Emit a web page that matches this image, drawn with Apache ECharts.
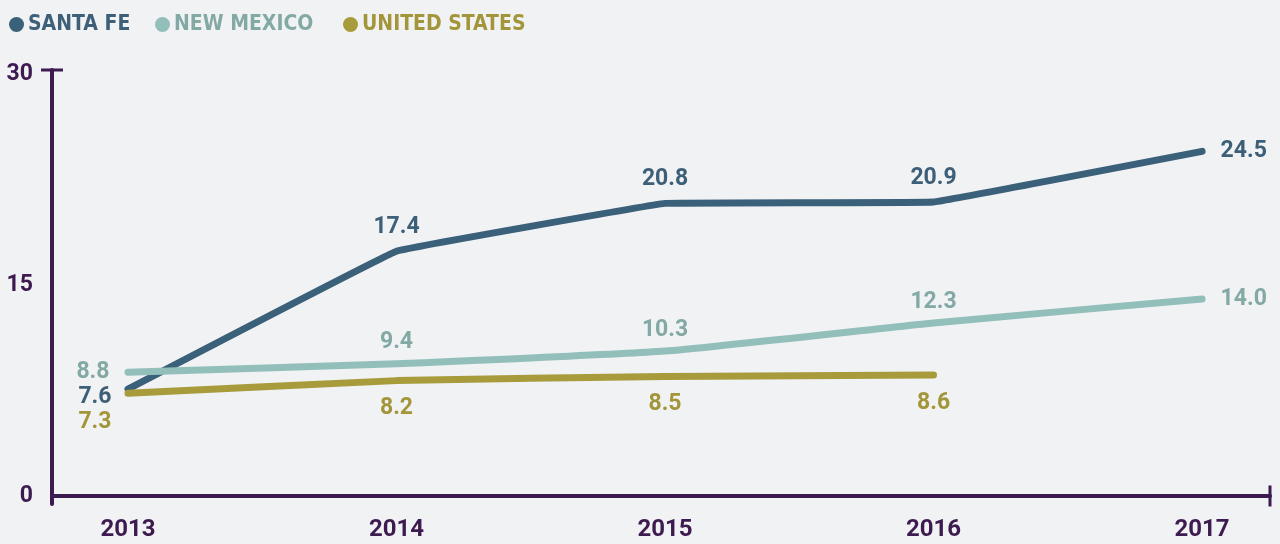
<!DOCTYPE html>
<html>
<head>
<meta charset="utf-8">
<style>
  html, body { margin: 0; padding: 0; background: #f1f2f4; }
  #chart { width: 1280px; height: 544px; }
</style>
<script src="https://cdn.jsdelivr.net/npm/echarts@6/dist/echarts.min.js"></script>
</head>
<body>
<div id="chart"></div>
<script>
const years = [2013, 2014, 2015, 2016, 2017];
const santaFe = [7.6, 17.4, 20.8, 20.9, 24.5];
const newMexico = [8.8, 9.4, 10.3, 12.3, 14.0];
const unitedStates = [7.3, 8.2, 8.5, 8.6];
const yTicks = [0, 15, 30];

const AXIS = '#3d1a4f';
const SF = '#3b6079', NM = '#93bfba', US = '#a89b3b';
const SF_TXT = '#3d5f78', NM_TXT = '#83a9a5', US_TXT = '#a3963a';
const NUM_FONT = 'Roboto, "Noto Sans", sans-serif';
const LEG_FONT = '"DejaVu Sans Condensed", "Liberation Sans Narrow", sans-serif';

const chart = echarts.init(document.getElementById('chart'));

function points(values, first, last) {
  return values.map((v, i) => {
    const item = { value: [years[i], v] };
    if (i === 0 && first) item.label = first;
    if (i === values.length - 1 && last) item.label = last;
    return item;
  });
}

function lineSeries(name, values, color, txt, smooth, label, first, last) {
  return {
    name,
    type: 'line',
    smooth,
    symbol: 'circle',
    symbolSize: 1,
    itemStyle: { color },
    lineStyle: { color, width: 7, cap: 'round', join: 'round' },
    label: Object.assign({
      show: true,
      color: txt,
      fontFamily: NUM_FONT,
      fontSize: 23,
      fontWeight: 'bold',
      formatter: (p) => p.value[1].toFixed(1)
    }, label),
    emphasis: { disabled: true },
    data: points(values, first, last)
  };
}

function legend(name, left, color, txt) {
  return {
    data: [{ name, itemStyle: { color }, textStyle: { color: txt } }],
    left, top: 9,
    icon: 'circle', itemWidth: 15, itemHeight: 15,
    textStyle: { fontFamily: LEG_FONT, fontSize: 21, fontWeight: 'bold', padding: [0, 0, 0, -1] },
    selectedMode: false
  };
}

chart.setOption({
  backgroundColor: '#f1f2f4',
  animation: false,
  legend: [
    legend('SANTA FE', 4, SF, SF_TXT),
    legend('NEW MEXICO', 150, NM, NM_TXT),
    legend('UNITED STATES', 338, US, US_TXT)
  ],
  grid: { left: 52, right: 10, top: 70, bottom: 40 },
  xAxis: {
    type: 'value',
    min: 2012.717,
    max: 2017.253,
    splitLine: { show: false },
    axisTick: { show: false },
    axisLine: {
      show: true,
      lineStyle: { color: AXIS, width: 4 },
      symbol: ['none', 'rect'],
      symbolSize: [21, 3]
    },
    axisLabel: {
      customValues: years,
      formatter: (v) => String(Math.round(v)),
      color: AXIS,
      fontFamily: NUM_FONT,
      fontSize: 24,
      fontWeight: 'bold',
      margin: 14
    }
  },
  yAxis: {
    type: 'value',
    min: -0.57,
    max: 30.28,
    splitLine: { show: false },
    axisTick: { show: false },
    axisLine: {
      show: true,
      lineStyle: { color: AXIS, width: 4 },
      symbol: ['none', 'rect'],
      symbolSize: [22, 3]
    },
    axisLabel: {
      customValues: yTicks,
      color: AXIS,
      fontFamily: NUM_FONT,
      fontSize: 23,
      fontWeight: 'bold',
      margin: 19
    }
  },
  series: [
    lineSeries('SANTA FE', santaFe, SF, SF_TXT, 0.04,
      { position: 'top', distance: 12 },
      { position: 'left', distance: 16, offset: [0, 8] },
      { position: 'right', distance: 18 }),
    lineSeries('NEW MEXICO', newMexico, NM, NM_TXT, 0.15,
      { position: 'top', distance: 9 },
      { position: 'left', distance: 18, offset: [0, 0] },
      { position: 'right', distance: 18 }),
    lineSeries('UNITED STATES', unitedStates, US, US_TXT, 0.1,
      { position: 'bottom', distance: 16 },
      { position: 'left', distance: 16, offset: [0, 29] },
      null)
  ]
});
</script>
</body>
</html>
